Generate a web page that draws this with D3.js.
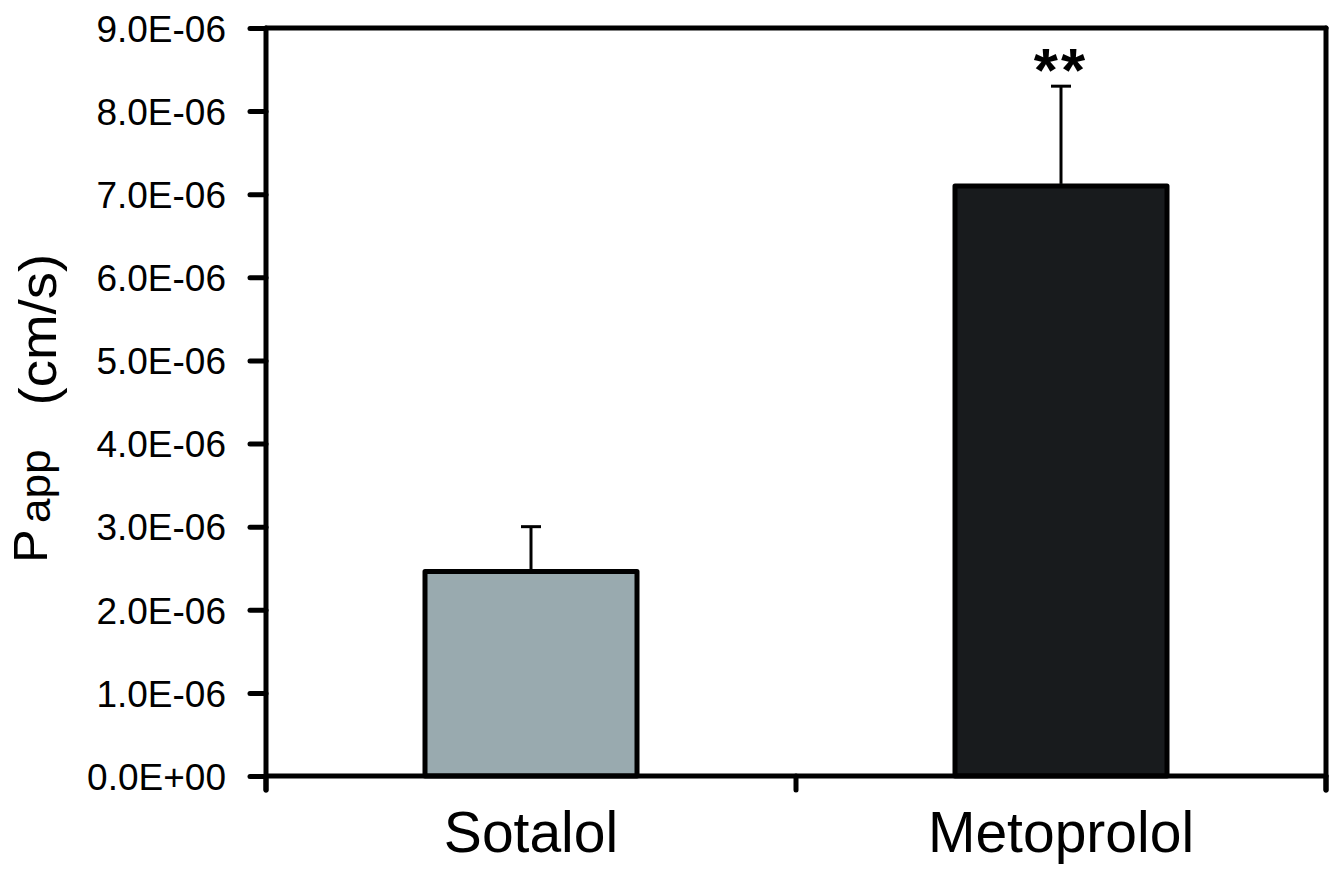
<!DOCTYPE html>
<html>
<head>
<meta charset="UTF-8">
<script src="https://cdnjs.cloudflare.com/ajax/libs/d3/7.8.5/d3.min.js"></script>
<style>
  body { margin: 0; background: #fff; }
  svg text { font-family: "Liberation Sans", Arial, sans-serif; fill: #000; }
</style>
</head>
<body>
<div id="chart"></div>
<script>
// data
var drugs = ["Sotalol", "Metoprolol"];
var papp = [2.46e-6, 7.1e-6];
var sd = [0.54e-6, 1.2e-6];
var fills = ["#99aaaf", "#181b1d"];
var marks = ["", "**"];
var yTicks = [0, 1e-6, 2e-6, 3e-6, 4e-6, 5e-6, 6e-6, 7e-6, 8e-6, 9e-6];

var width = 1335, height = 872;
var plotLeft = 266, plotRight = 1326, plotTop = 28, plotBottom = 776;

var svg = d3.select("#chart").append("svg")
  .attr("width", width)
  .attr("height", height);

var x = d3.scaleBand()
  .domain(drugs)
  .range([plotLeft, plotRight])
  .paddingInner(0.6)
  .paddingOuter(0.3);

var y = d3.scaleLinear()
  .domain([0, 9e-6])
  .range([plotBottom, plotTop]);

function sci(d) {
  if (d === 0) return "0.0E+00";
  var e = Math.floor(Math.log10(d) + 1e-9);
  var m = d / Math.pow(10, e);
  var s = e < 0 ? "-" : "+";
  var a = Math.abs(e);
  return m.toFixed(1) + "E" + s + (a < 10 ? "0" + a : a);
}

// bars
svg.selectAll("rect.bar")
  .data(drugs)
  .enter().append("rect")
  .attr("class", "bar")
  .attr("x", d => x(d))
  .attr("width", x.bandwidth())
  .attr("y", (d, i) => y(papp[i]))
  .attr("height", (d, i) => y(0) - y(papp[i]))
  .attr("fill", (d, i) => fills[i])
  .attr("stroke", "#000")
  .attr("stroke-width", 5)
  .attr("stroke-linejoin", "round");

// error bars
var err = svg.append("g").attr("stroke", "#000").attr("stroke-width", 3);
drugs.forEach(function(d, i) {
  var cx = x(d) + x.bandwidth() / 2;
  err.append("line")
    .attr("x1", cx).attr("x2", cx)
    .attr("y1", y(papp[i]) - 2).attr("y2", y(papp[i] + sd[i]));
  err.append("line")
    .attr("x1", cx - 10).attr("x2", cx + 10)
    .attr("y1", y(papp[i] + sd[i])).attr("y2", y(papp[i] + sd[i]));
});

// significance
svg.selectAll("text.sig")
  .data(drugs)
  .enter().append("text")
  .attr("class", "sig")
  .attr("x", d => x(d) + x.bandwidth() / 2)
  .attr("y", 91)
  .attr("text-anchor", "middle")
  .attr("letter-spacing", 3)
  .style("font-size", "62px")
  .style("font-weight", "bold")
  .text((d, i) => marks[i]);

// y axis
var yAxis = svg.append("g")
  .attr("transform", "translate(" + plotLeft + ",0)")
  .call(d3.axisLeft(y).tickValues(yTicks).tickFormat(sci).tickSize(16).tickPadding(24));
yAxis.select(".domain").remove();
yAxis.selectAll(".tick line")
  .attr("stroke", "#000")
  .attr("stroke-width", 5)
  .attr("stroke-linecap", "round");
yAxis.selectAll(".tick text")
  .attr("dy", "0.36em")
  .style("font-size", "37px");

// x axis
var xAxis = svg.append("g")
  .attr("transform", "translate(0," + plotBottom + ")")
  .call(d3.axisBottom(x).tickSize(0).tickPadding(36));
xAxis.select(".domain").remove();
xAxis.selectAll(".tick text")
  .attr("dy", "0.71em")
  .style("font-size", "57px");

var bounds = d3.range(drugs.length + 1).map(i => plotLeft + i * x.step());
svg.append("g").selectAll("line")
  .data(bounds)
  .enter().append("line")
  .attr("x1", d => d).attr("x2", d => d)
  .attr("y1", plotBottom).attr("y2", plotBottom + 14)
  .attr("stroke", "#000")
  .attr("stroke-width", 5)
  .attr("stroke-linecap", "round");

// frame
var frame = svg.append("g")
  .attr("stroke", "#000")
  .attr("stroke-width", 5)
  .attr("stroke-linecap", "round");
frame.append("line").attr("x1", plotLeft).attr("x2", plotLeft).attr("y1", plotTop).attr("y2", plotBottom + 14);
frame.append("line").attr("x1", plotLeft).attr("x2", plotRight).attr("y1", plotBottom).attr("y2", plotBottom);
frame.append("line").attr("x1", plotLeft).attr("x2", plotRight).attr("y1", plotTop).attr("y2", plotTop);
frame.append("line").attr("x1", plotRight).attr("x2", plotRight).attr("y1", plotTop).attr("y2", plotBottom + 14);

// y label
var yl = svg.append("text")
  .attr("transform", "translate(47,563) rotate(-90) scale(1.05,1)")
  .attr("text-anchor", "start");
yl.append("tspan").style("font-size", "48px").text("P");
yl.append("tspan").style("font-size", "42px").attr("dx", 6).attr("dy", 3).text("app");
yl.append("tspan").style("font-size", "52px").attr("dx", 42).attr("dy", 6).text("(cm/s)");
</script>
</body>
</html>
